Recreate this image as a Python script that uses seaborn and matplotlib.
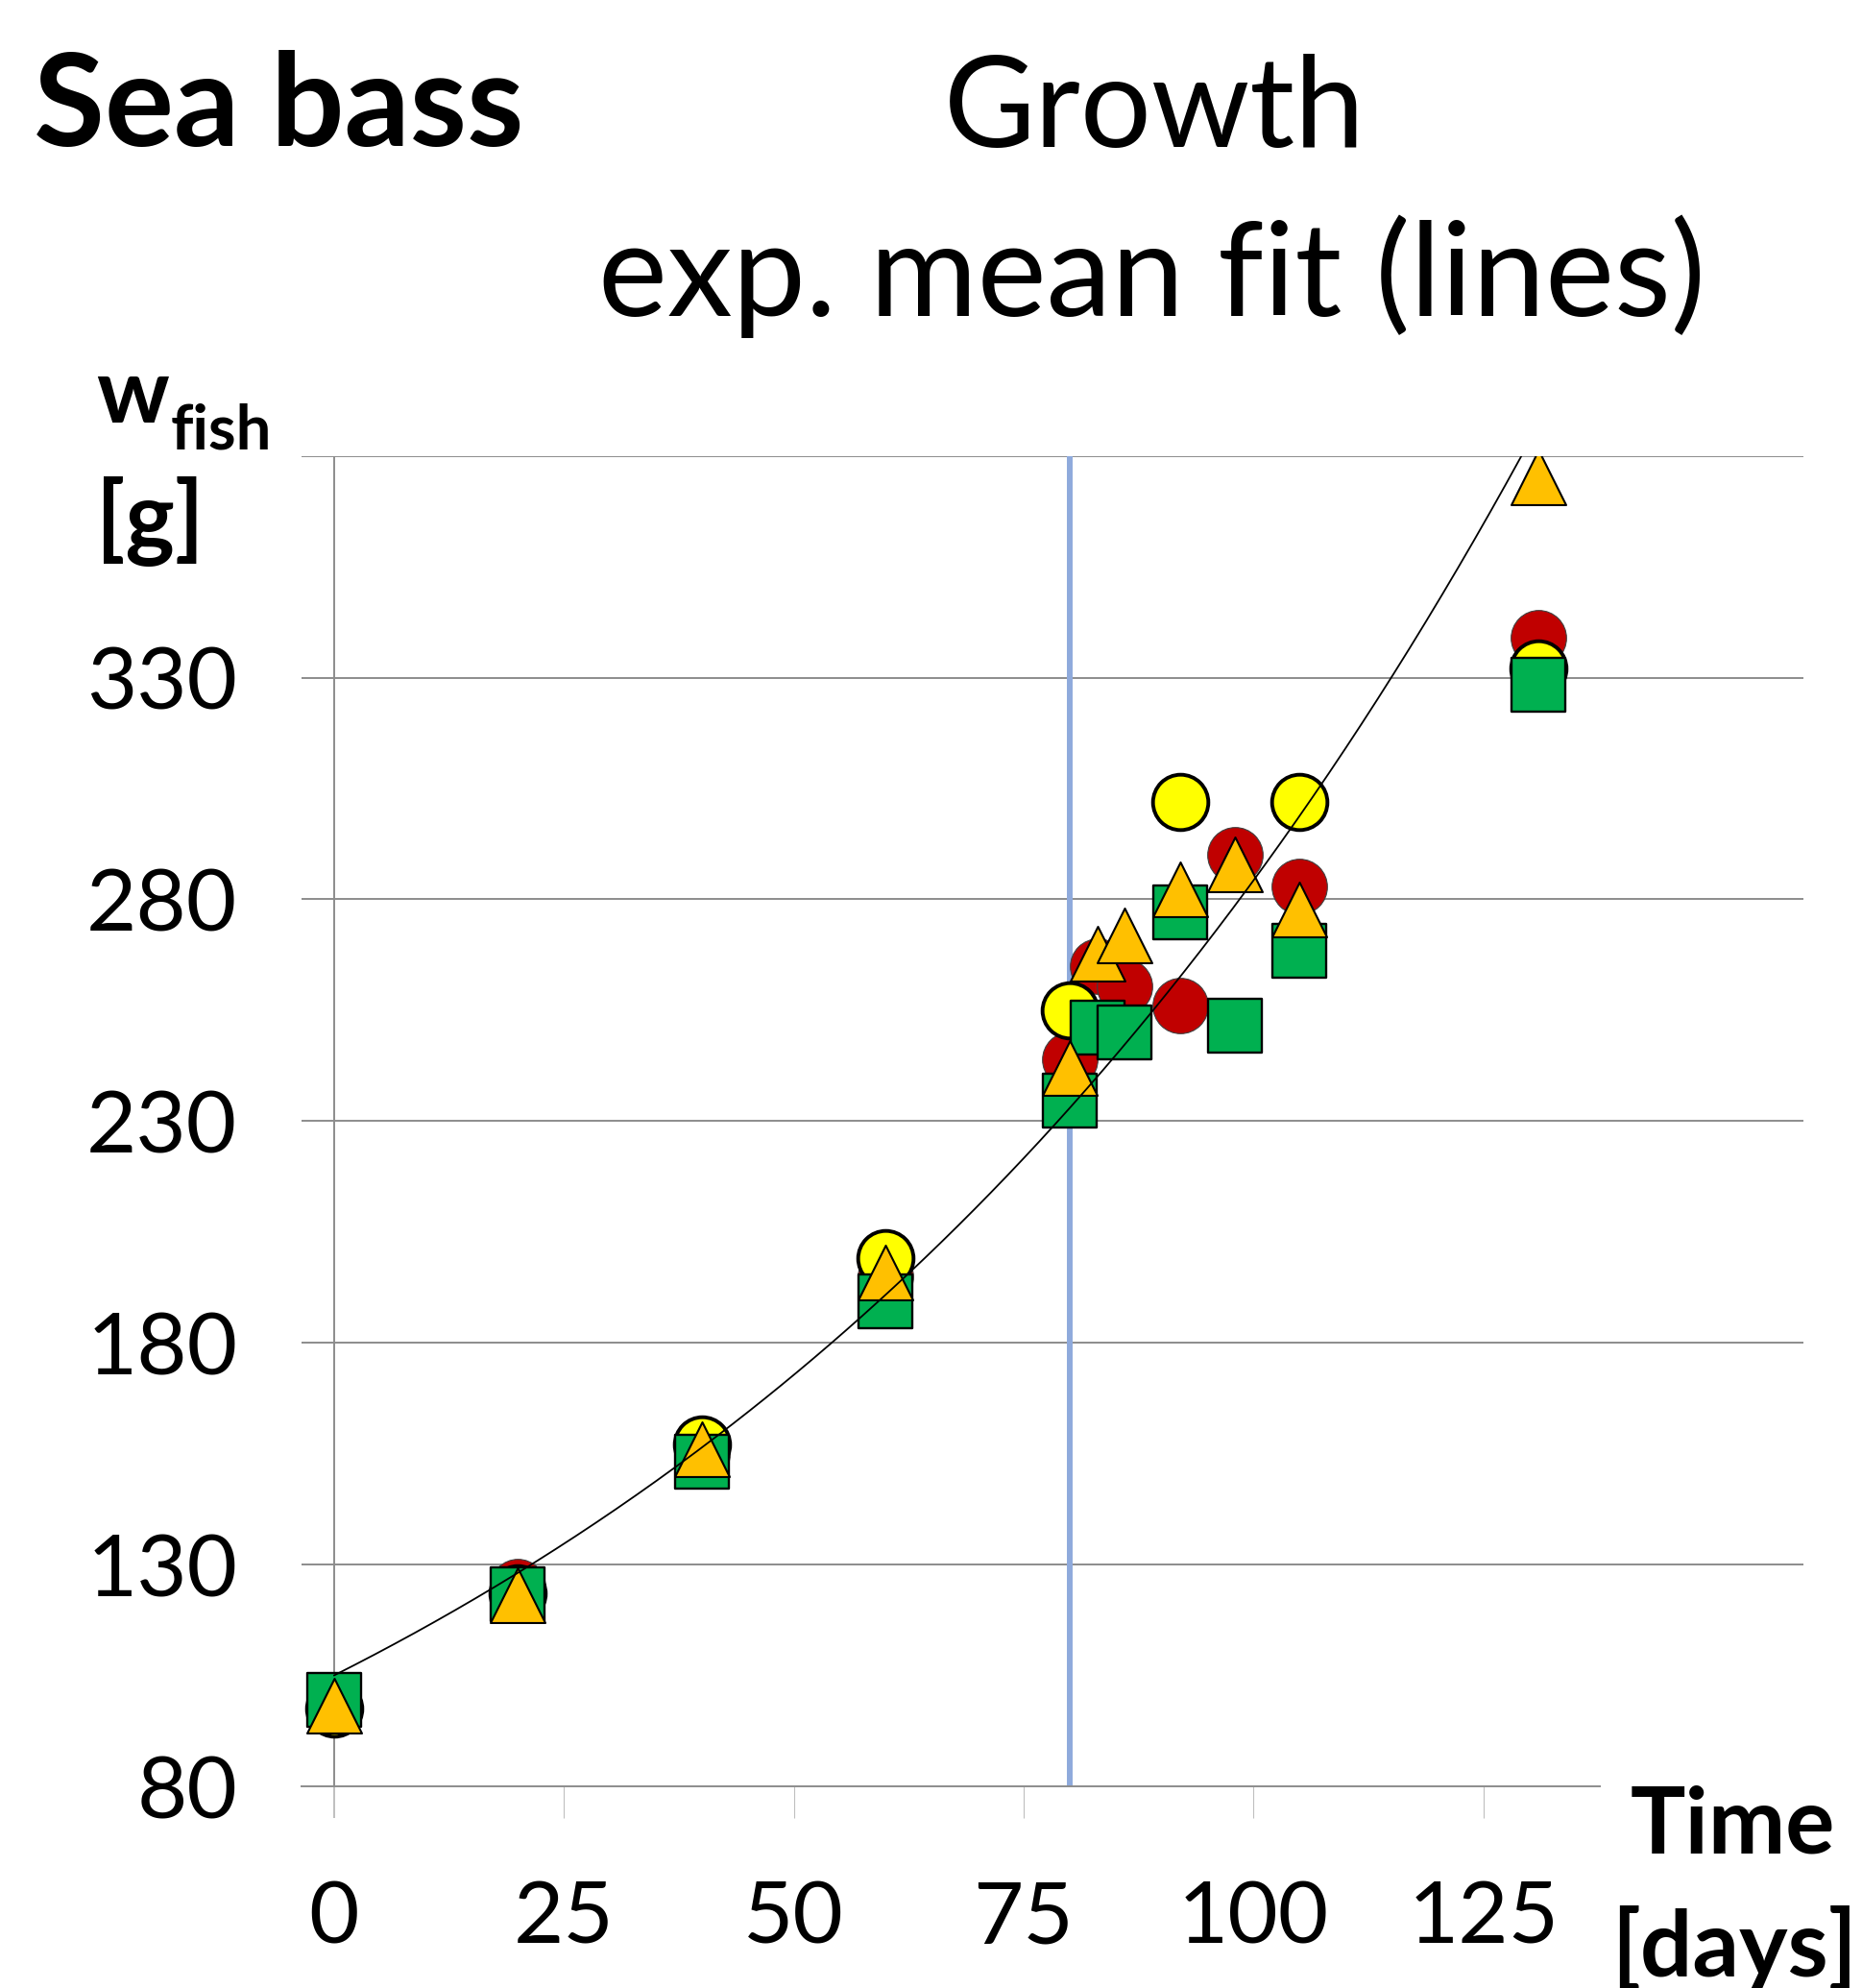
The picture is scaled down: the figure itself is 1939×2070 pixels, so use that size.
import numpy as np
import pandas as pd
import matplotlib
matplotlib.use("Agg")
import matplotlib.pyplot as plt
import seaborn as sns

# Sampling days and fish weight [g] per tank
days = [0, 20, 40, 60, 80, 83, 86, 92, 98, 105, 131]
w_red = [98, 125, 155, 195, 244, 265, 260.5, 256, 290, 283, 339]
w_yellow = [97.5, 123.5, 157, 199, 255, np.nan, np.nan, 302, np.nan, 302, 332]
w_green = [99.4, 123.4, 153.3, 189.3, 234.7, 251, 250, 277, 251.6, 268.4, 328.4]
w_orange = [98.2, 123, 156.1, 195.9, 242, 267.7, 271.8, 282.2, 288, 277.7, 375.2]

# exponential mean fit w = w0 * exp(k * t)
fit_w0 = 105.0
fit_k = 0.00996
fit_days_end = 131

x_ticks = [0, 25, 50, 75, 100, 125]
y_ticks = [80, 130, 180, 230, 280, 330, 380]
y_tick_labels = ["80", "130", "180", "230", "280", "330", ""]
marker_day = 80

df = pd.DataFrame({"day": days, "red": w_red, "yellow": w_yellow,
                   "green": w_green, "orange": w_orange})

W, H = 1939, 2070
sns.set_theme(style="white")
plt.rcParams["font.family"] = ["Lato", "DejaVu Sans"]
plt.rcParams["text.color"] = "black"
plt.rcParams["xtick.labelcolor"] = "black"
plt.rcParams["ytick.labelcolor"] = "black"

fig = plt.figure(figsize=(W / 100, H / 100), dpi=100)
ax = fig.add_axes([314 / W, 1 - 1860 / H, (1878 - 314) / W, (1860 - 474.7) / H])

grid_gray = "#8c8c8c"

# vertical marker at day 80, behind the data
ax.axvline(marker_day, color="#8faadc", lw=4.3, zorder=1)
ax.axvline(0, color=grid_gray, lw=1.4, zorder=1)

sns.scatterplot(data=df, x="day", y="red", marker="o", s=41.5**2, color="#c00000",
                edgecolor="#404040", linewidth=0.8, ax=ax, zorder=3)
sns.scatterplot(data=df, x="day", y="yellow", marker="o", s=41.5**2, color="#ffff00",
                edgecolor="black", linewidth=2.8, ax=ax, zorder=4)
sns.scatterplot(data=df, x="day", y="green", marker="s", s=40.5**2, color="#00b050",
                edgecolor="black", linewidth=1.7, ax=ax, zorder=5)
sns.scatterplot(data=df, x="day", y="orange", marker="^", s=41**2, color="#ffc000",
                edgecolor="black", linewidth=1.5, ax=ax, zorder=6)

# fit line on top of markers
t = np.linspace(0, fit_days_end, 300)
fit = pd.DataFrame({"day": t, "w": fit_w0 * np.exp(fit_k * t)})
sns.lineplot(data=fit, x="day", y="w", color="black", lw=1.3, ax=ax, zorder=7)

ax.set_xlim(-3.53, 159.8)
ax.set_ylim(80, 380)
ax.set_xticks(x_ticks)
ax.set_yticks(y_ticks)
ax.set_yticklabels(y_tick_labels)
ax.set_xlabel("")
ax.set_ylabel("")

ax.grid(axis="y", color=grid_gray, lw=1.4)
ax.grid(axis="x", visible=False)
ax.yaxis.get_gridlines()[0].set_visible(False)
ax.set_axisbelow(True)

for side in ["top", "right", "left"]:
    ax.spines[side].set_visible(False)
ax.spines["bottom"].set_color(grid_gray)
ax.spines["bottom"].set_linewidth(1.4)
ax.spines["bottom"].set_bounds(-3.53, 137.7)

ax.tick_params(axis="x", direction="out", length=24, width=0.8, color="#bfbfbf",
               labelsize=65, pad=46, bottom=True, labelcolor="black")
ax.tick_params(axis="y", length=0, labelsize=65, pad=48, labelcolor="black")
ax.xaxis.get_major_ticks()[0].tick1line.set_color(grid_gray)
ax.xaxis.get_major_ticks()[0].tick1line.set_markeredgewidth(1.4)

def px(x, y):
    return x / W, 1 - y / H

fig.text(*px(35, 152), "Sea bass", fontsize=97, fontweight="bold", va="baseline")
fig.text(*px(1202, 153), "Growth", fontsize=94, ha="center", va="baseline")
fig.text(*px(1200, 329), "exp. mean fit (lines)", fontsize=98, ha="center", va="baseline")
fig.text(*px(100, 440), "w", fontsize=68, fontweight="bold", va="baseline")
fig.text(*px(178, 467), "fish", fontsize=47, fontweight="bold", va="baseline")
fig.text(*px(100, 572), "[g]", fontsize=70, fontweight="bold", va="baseline")
fig.text(*px(1698, 1930), "Time", fontsize=69, fontweight="bold", va="baseline")
fig.text(*px(1678, 2058), "[days]", fontsize=69, fontweight="bold", va="baseline")

fig.savefig("out.png", dpi=100, facecolor="white")
